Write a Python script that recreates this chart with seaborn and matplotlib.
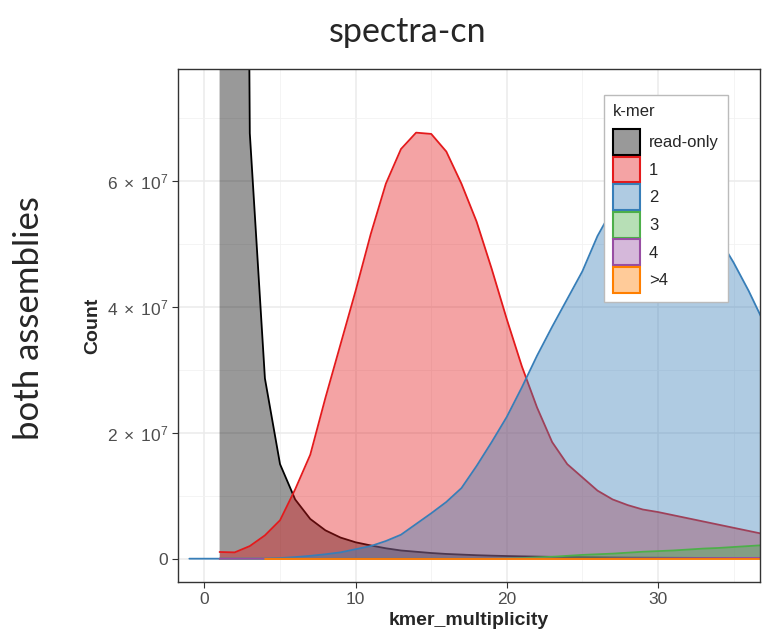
import numpy as np
import pandas as pd
import matplotlib
matplotlib.use("Agg")
import matplotlib.pyplot as plt
from matplotlib.patches import Patch
from matplotlib.ticker import FixedLocator, FuncFormatter
import seaborn as sns

# ---------------- data (counts in units of 1e7) ----------------
kmer_labels = ["read-only", "1", "2", "3", "4", ">4"]
line_colors = ["#000000", "#E41A1C", "#377EB8", "#4DAF4A", "#984EA3", "#FF7F00"]

x_readonly = list(range(1, 38))
y_readonly = [120.0, 42.0, 6.75, 2.86, 1.5, 0.94, 0.63, 0.45, 0.335, 0.26,
              0.21, 0.165, 0.13, 0.11, 0.09, 0.075, 0.065, 0.055, 0.048, 0.042,
              0.037, 0.033, 0.029, 0.026, 0.023, 0.021, 0.019, 0.017, 0.016, 0.015,
              0.014, 0.013, 0.012, 0.011, 0.010, 0.010, 0.009]

x_cn1 = list(range(1, 38))
y_cn1 = [0.106, 0.10, 0.20, 0.37, 0.61, 1.10, 1.65, 2.55, 3.40, 4.25,
         5.15, 5.95, 6.50, 6.76, 6.74, 6.46, 5.95, 5.35, 4.60, 3.80,
         3.05, 2.40, 1.85, 1.50, 1.29, 1.08, 0.94, 0.85, 0.78, 0.74,
         0.69, 0.64, 0.59, 0.54, 0.49, 0.44, 0.39]

x_cn2 = list(range(-1, 38))
y_cn2 = [0, 0, 0, 0, 0, 0, 0.01, 0.025, 0.045, 0.07,
         0.10, 0.15, 0.20, 0.28, 0.38, 0.55, 0.72, 0.90, 1.12, 1.47,
         1.85, 2.25, 2.72, 3.22, 3.68, 4.12, 4.56, 5.12, 5.55, 5.85,
         6.00, 6.02, 5.95, 5.75, 5.45, 5.10, 4.70, 4.25, 3.75]

x_cn3 = list(range(1, 38))
y_cn3 = [0, 0, 0, 0, 0, 0, 0, 0, 0, 0,
         0, 0, 0, 0, 0, 0, 0, 0, 0, 0.003,
         0.01, 0.02, 0.03, 0.045, 0.06, 0.07, 0.08, 0.095, 0.11, 0.12,
         0.13, 0.145, 0.16, 0.17, 0.185, 0.20, 0.215]

x_cn4 = list(range(1, 38))
y_cn4 = [0] * 26 + [0.003, 0.004, 0.005, 0.006, 0.007, 0.008, 0.009, 0.010, 0.011, 0.012, 0.013]

x_cn5 = list(range(4, 38))
y_cn5 = [0] * 34

xs = [x_readonly, x_cn1, x_cn2, x_cn3, x_cn4, x_cn5]
ys = [y_readonly, y_cn1, y_cn2, y_cn3, y_cn4, y_cn5]

frames = []
for lab, xv, yv in zip(kmer_labels, xs, ys):
    frames.append(pd.DataFrame({"kmer_multiplicity": xv,
                                "Count": np.array(yv) * 1e7,
                                "kmer": lab}))
df = pd.concat(frames, ignore_index=True)

# ---------------- figure ----------------
sns.set_theme(style="white")
plt.rcParams["font.family"] = ["Liberation Sans", "DejaVu Sans"]
plt.rcParams["mathtext.fontset"] = "custom"
plt.rcParams["mathtext.rm"] = "Liberation Sans"
plt.rcParams["mathtext.it"] = "Liberation Sans:italic"

fig = plt.figure(figsize=(7.68, 6.42), dpi=100)
ax = fig.add_axes([178 / 768, 1 - 582 / 642, (760 - 178) / 768, (582 - 69) / 642])
ax.set_facecolor("white")

fill_alpha = 0.4
fill_colors = ["#000000", "#E41A1C", "#377EB8", "#4DAF4A", "#984EA3", "#FF7F00"]
for i, lab in enumerate(kmer_labels):
    sub = df[df["kmer"] == lab]
    ax.fill_between(sub["kmer_multiplicity"], 0, sub["Count"],
                    color=fill_colors[i], alpha=fill_alpha, linewidth=0,
                    zorder=3 + 2 * i)
    sns.lineplot(data=sub, x="kmer_multiplicity", y="Count", ax=ax,
                 color=line_colors[i], linewidth=1.3, estimator=None,
                 sort=False, legend=False, zorder=4 + 2 * i)

ax.set_xlim(-1.75, 36.75)
ax.set_ylim(-3.7e6, 7.77e7)

ax.xaxis.set_major_locator(FixedLocator([0, 10, 20, 30]))
ax.xaxis.set_minor_locator(FixedLocator([-5, 5, 15, 25, 35]))
ax.yaxis.set_major_locator(FixedLocator([0, 2e7, 4e7, 6e7]))
ax.yaxis.set_minor_locator(FixedLocator([1e7, 3e7, 5e7, 7e7]))


def yfmt(v, pos):
    if v == 0:
        return "0"
    m = int(round(v / 1e7))
    return r"$%d\;\times\;10^{7}$" % m


ax.yaxis.set_major_formatter(FuncFormatter(yfmt))
ax.grid(True, which="major", color="#EBEBEB", linewidth=1.1, zorder=0)
ax.grid(True, which="minor", color="#F2F2F2", linewidth=0.6, zorder=0)
ax.set_axisbelow(True)

for s in ax.spines.values():
    s.set_color("#333333")
    s.set_linewidth(1.0)
    s.set_zorder(30)

ax.tick_params(axis="both", which="major", length=4, width=0.8, color="#333333",
               labelcolor="#4D4D4D", labelsize=12.5, pad=3,
               left=True, bottom=True)
ax.tick_params(axis="both", which="minor", length=0)

ax.set_xlabel("kmer_multiplicity", fontsize=14, fontweight="bold", labelpad=4)
ax.set_ylabel("Count", fontsize=14, fontweight="bold", labelpad=4)

# legend
handles = [Patch(facecolor=matplotlib.colors.to_rgba(fill_colors[i], fill_alpha),
                 edgecolor=line_colors[i], linewidth=1.5, label=kmer_labels[i])
           for i in range(len(kmer_labels))]
leg = ax.legend(handles=handles, title="k-mer", loc="upper left",
                bbox_to_anchor=(604 / 768, 1 - 95 / 642),
                bbox_transform=fig.transFigure, borderaxespad=0,
                fontsize=12, title_fontsize=12, frameon=True, fancybox=False,
                framealpha=1.0, facecolor="white",
                handlelength=1.6, handleheight=2.02, labelspacing=0.1,
                handletextpad=0.55, borderpad=0.55, alignment="left")
leg._legend_box.sep = 7
leg.get_frame().set_edgecolor("#BBBBBB")
leg.get_frame().set_linewidth(1.0)
leg.set_zorder(40)

fig.text(408 / 768, 1 - 32 / 642, "spectra-cn", ha="center", va="center",
         fontsize=24.5, family=["Lato", "DejaVu Sans"])
fig.text(29 / 768, 1 - 318 / 642, "both assemblies", ha="center", va="center",
         rotation=90, fontsize=25, family=["Lato", "DejaVu Sans"])

fig.savefig("out.png", dpi=100)
